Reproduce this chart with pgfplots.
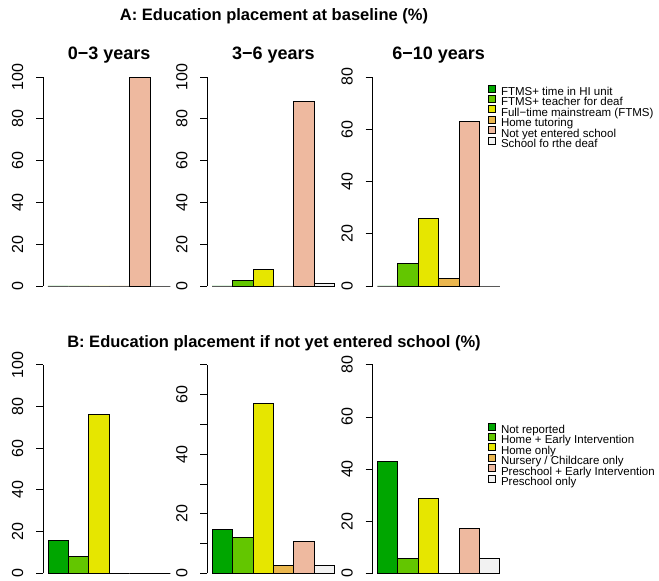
\documentclass[border=0pt]{standalone}
\usepackage{pgfplots}
\pgfplotsset{compat=1.18}
\usepackage{fontspec}
\setmainfont{Liberation Sans}

% terrain palette, one colour per category
\definecolor{c1}{HTML}{00A600}
\definecolor{c2}{HTML}{63C600}
\definecolor{c3}{HTML}{E6E600}
\definecolor{c4}{HTML}{EAB64E}
\definecolor{c5}{HTML}{EEB99F}
\definecolor{c6}{HTML}{F2F2F2}

\pgfplotsset{
  panel/.style={
    scale only axis, width=132.2pt, height=209pt, anchor=south west,
    xmin=-0.24, xmax=6.24, ymin=0,
    axis x line=none, axis y line=left,
    y axis line style={-, line width=0.8pt},
    tick align=outside, major tick length=7pt, ytick pos=left,
    every tick/.style={black, line width=0.8pt},
    minor tick num=0,
    yticklabel style={rotate=90, anchor=base, inner sep=0pt, yshift=13pt,
      font=\fontsize{16}{16}\selectfont},
    /pgf/number format/assume math mode=true,
    clip=false,
    title style={font=\bfseries\fontsize{18}{18}\selectfont, at={(0.5,1)},
      anchor=base, yshift=11.5pt, inner sep=0pt},
    legend cell align=left,
    legend image code/.code={\draw[##1, draw=black, line width=0.7pt] (0pt,0.6pt) rectangle (7pt,7.6pt);},
    legend style={anchor=north west, draw=none, fill=none, inner sep=0pt, outer sep=0pt,
      column sep=5.4pt, row sep=-2.9pt, font=\fontsize{11.5}{11.5}\selectfont,
      nodes={inner sep=0pt, text height=8.3pt, text depth=2.5pt}},
  },
  catbar/.style={ybar, bar width=1, draw=black, line width=0.8pt, fill=#1},
}

\begin{document}
\begin{tikzpicture}
\path[use as bounding box] (0pt,0pt) rectangle (659pt,581pt);

\node[anchor=base, font=\bfseries\fontsize{16.5}{16.5}\selectfont] at (274pt,560.3pt)
  {A: Education placement at baseline (\%)};
\node[anchor=base, font=\bfseries\fontsize{16.5}{16.5}\selectfont] at (274pt,233.7pt)
  {B: Education placement if not yet entered school (\%)};

% ---- A: placement at baseline ----
\begin{axis}[panel, at={(43.1pt,295pt)}, ymax=100, ytick={0,20,...,100}, title={0−3 years}]
  \addplot[catbar=c1] coordinates {(0.5,0)};
  \addplot[catbar=c2] coordinates {(1.5,0)};
  \addplot[catbar=c3] coordinates {(2.5,0)};
  \addplot[catbar=c4] coordinates {(3.5,0)};
  \addplot[catbar=c5] coordinates {(4.5,100)};
  \addplot[catbar=c6] coordinates {(5.5,0)};
\end{axis}

\begin{axis}[panel, at={(207.3pt,295pt)}, ymax=100, ytick={0,20,...,100}, title={3−6 years}]
  \addplot[catbar=c1] coordinates {(0.5,0)};
  \addplot[catbar=c2] coordinates {(1.5,2.6)};
  \addplot[catbar=c3] coordinates {(2.5,7.9)};
  \addplot[catbar=c4] coordinates {(3.5,0)};
  \addplot[catbar=c5] coordinates {(4.5,88.2)};
  \addplot[catbar=c6] coordinates {(5.5,1.3)};
\end{axis}

\begin{axis}[panel, at={(372.5pt,295pt)}, ymax=80, ytick={0,20,...,80}, title={6−10 years},
    legend style={at={(0.873,0.964)}}]
  \addplot[catbar=c1] coordinates {(0.5,0)};
  \addplot[catbar=c2] coordinates {(1.5,8.6)};
  \addplot[catbar=c3] coordinates {(2.5,25.7)};
  \addplot[catbar=c4] coordinates {(3.5,2.9)};
  \addplot[catbar=c5] coordinates {(4.5,62.9)};
  \addplot[catbar=c6] coordinates {(5.5,0)};
  \legend{FTMS+ time in HI unit, FTMS+ teacher for deaf, Full−time mainstream (FTMS),
    Home tutoring, Not yet entered school, School fo rthe deaf}
\end{axis}

% ---- B: placement if not yet entered school ----
\begin{axis}[panel, at={(43.1pt,7.7pt)}, height=208.5pt, ymax=100, ytick={0,20,...,100}]
  \addplot[catbar=c1] coordinates {(0.5,16)};
  \addplot[catbar=c2] coordinates {(1.5,8)};
  \addplot[catbar=c3] coordinates {(2.5,76)};
  \addplot[catbar=c4] coordinates {(3.5,0)};
  \addplot[catbar=c5] coordinates {(4.5,0)};
  \addplot[catbar=c6] coordinates {(5.5,0)};
\end{axis}

\begin{axis}[panel, at={(207.3pt,7.7pt)}, height=208.5pt, ymax=70, ytick={0,10,...,70},
    yticklabels={0,,20,,40,,60,}]
  \addplot[catbar=c1] coordinates {(0.5,14.8)};
  \addplot[catbar=c2] coordinates {(1.5,12.0)};
  \addplot[catbar=c3] coordinates {(2.5,57.2)};
  \addplot[catbar=c4] coordinates {(3.5,2.6)};
  \addplot[catbar=c5] coordinates {(4.5,10.6)};
  \addplot[catbar=c6] coordinates {(5.5,2.6)};
\end{axis}

\begin{axis}[panel, at={(372.5pt,7.7pt)}, height=208.5pt, ymax=80, ytick={0,20,...,80},
    legend style={at={(0.873,0.723)}}]
  \addplot[catbar=c1] coordinates {(0.5,42.9)};
  \addplot[catbar=c2] coordinates {(1.5,5.7)};
  \addplot[catbar=c3] coordinates {(2.5,28.6)};
  \addplot[catbar=c4] coordinates {(3.5,0)};
  \addplot[catbar=c5] coordinates {(4.5,17.1)};
  \addplot[catbar=c6] coordinates {(5.5,5.7)};
  \legend{Not reported, Home + Early Intervention, Home only,
    Nursery / Childcare only, Preschool + Early Intervention, Preschool only}
\end{axis}
\end{tikzpicture}
\end{document}
